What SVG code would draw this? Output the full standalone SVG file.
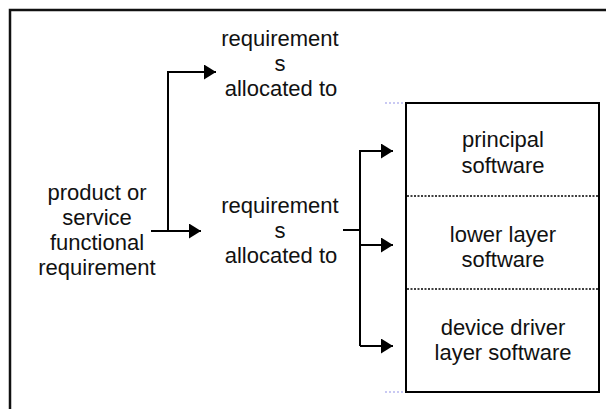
<svg xmlns="http://www.w3.org/2000/svg" width="606" height="409" viewBox="0 0 606 409">
  <style>
    .txt { font-family: "Liberation Sans", Arial, sans-serif; font-size: 22px; fill: #111; text-anchor: middle; }
    .line { stroke: #000; stroke-width: 2; fill: none; }
    .frame { stroke: #111; stroke-width: 2.5; fill: none; }
    .divider { stroke: #000; stroke-width: 1.5; stroke-dasharray: 2 1.5; fill: none; }
    .guide { stroke: #b8b8f0; stroke-width: 1.5; stroke-dasharray: 2 2; fill: none; }
  </style>
  <defs>
    <marker id="arrow" markerUnits="userSpaceOnUse" markerWidth="12" markerHeight="15" refX="12" refY="7.5" orient="auto">
      <polygon points="0,0 12,7.5 0,15" fill="#000"/>
    </marker>
  </defs>

  <rect width="606" height="409" fill="#fff"/>

  <!-- outer frame (open to the right and bottom) -->
  <path class="frame" d="M10,409 V10 H606"/>

  <!-- connectors -->
  <g id="connectors">
    <path class="line" d="M151,231 H201" marker-end="url(#arrow)"/>
    <path class="line" d="M168,231 V72 H216" marker-end="url(#arrow)"/>
    <path class="line" d="M343,230 H360"/>
    <path class="line" d="M360,346 V151 H393" marker-end="url(#arrow)"/>
    <path class="line" d="M360,245 H393" marker-end="url(#arrow)"/>
    <path class="line" d="M360,346 H393" marker-end="url(#arrow)"/>
  </g>

  <!-- source requirement -->
  <g id="source">
    <text class="txt" x="97" y="200">product or</text>
    <text class="txt" x="97" y="225">service</text>
    <text class="txt" x="97" y="250">functional</text>
    <text class="txt" x="97" y="275">requirement</text>
  </g>

  <!-- upper allocation -->
  <g id="alloc-upper">
    <text class="txt" x="280" y="46">requirement</text>
    <text class="txt" x="280" y="71">s</text>
    <text class="txt" x="281" y="96">allocated to</text>
  </g>

  <!-- lower allocation -->
  <g id="alloc-lower">
    <text class="txt" x="280" y="213">requirement</text>
    <text class="txt" x="280" y="238">s</text>
    <text class="txt" x="281" y="263">allocated to</text>
  </g>

  <!-- software stack -->
  <g id="stack">
    <path class="guide" d="M385,103 H405 M385,392 H405"/>
    <rect x="406" y="103" width="193" height="289" class="line"/>
    <path class="divider" d="M407,196 H598 M407,289 H598"/>
  </g>
  <g id="principal">
    <text class="txt" x="503" y="147">principal</text>
    <text class="txt" x="503" y="173">software</text>
  </g>
  <g id="lower-layer">
    <text class="txt" x="503" y="242">lower layer</text>
    <text class="txt" x="503" y="267">software</text>
  </g>
  <g id="device-driver">
    <text class="txt" x="503" y="335">device driver</text>
    <text class="txt" x="503" y="360">layer software</text>
  </g>
</svg>
